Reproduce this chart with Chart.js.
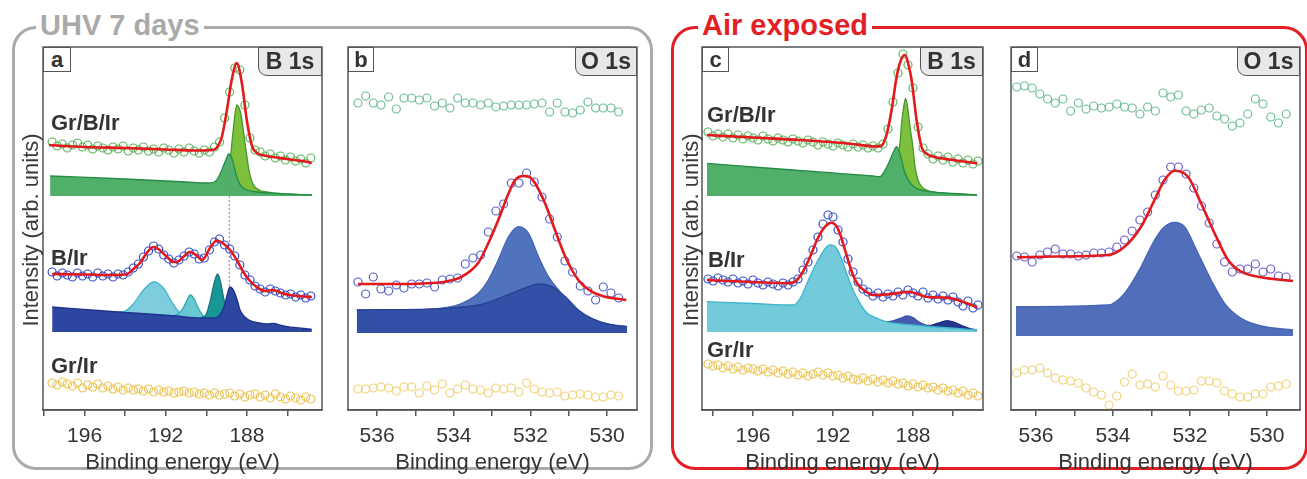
<!DOCTYPE html>
<html>
<head>
<meta charset="utf-8">
<script src="https://cdn.jsdelivr.net/npm/chart.js@4.4.1/dist/chart.umd.min.js"></script>
<style>
html,body{margin:0;padding:0;background:#fff;overflow:hidden;}
body{width:1307px;height:479px;position:relative;font-family:"Liberation Sans",Arial,sans-serif;}
canvas{position:absolute;}
.grp{position:absolute;box-sizing:border-box;border:3px solid;border-radius:24px;}
.grpTitle{position:absolute;font-weight:bold;font-size:29px;line-height:29px;background:#fff;padding:0 4px;white-space:nowrap;}
.tag{position:absolute;box-sizing:border-box;border:1.5px solid #555;background:#fff;color:#333;font-weight:bold;font-size:22px;display:flex;align-items:center;justify-content:center;}
.core{background:#e8e8ea;border-bottom-left-radius:9px;font-size:23px;}
.lbl{position:absolute;color:#333;font-weight:bold;font-size:22px;line-height:22px;white-space:nowrap;}
.ytitle{position:absolute;color:#3a3a3a;font-size:22px;white-space:nowrap;transform:translate(-50%,-50%) rotate(-90deg);}
</style>
</head>
<body>
<div class="grp" style="left:11.5px;top:25.5px;width:641px;height:444px;border-color:#aaa;"></div>
<div class="grpTitle" style="left:36px;top:11px;color:#aaa;">UHV 7 days</div>
<div class="grp" style="left:670.5px;top:25.5px;width:637px;height:444px;border-color:#e31e24;"></div>
<div class="grpTitle" style="left:698px;top:11px;color:#e31e24;">Air exposed</div>

<canvas id="pa"></canvas>
<canvas id="pb"></canvas>
<canvas id="pc"></canvas>
<canvas id="pd"></canvas>

<div class="ytitle" style="left:31px;top:230px;">Intensity (arb. units)</div>
<div class="ytitle" style="left:691px;top:230px;">Intensity (arb. units)</div>

<div class="tag" style="left:43px;top:47px;width:28px;height:25px;">a</div>
<div class="tag core" style="left:258px;top:47px;width:64px;height:29px;">B 1s</div>
<div class="tag" style="left:348px;top:47px;width:26px;height:25px;">b</div>
<div class="tag core" style="left:575px;top:47px;width:62px;height:29px;">O 1s</div>
<div class="tag" style="left:702px;top:47px;width:27px;height:25px;">c</div>
<div class="tag core" style="left:920px;top:47px;width:63px;height:29px;">B 1s</div>
<div class="tag" style="left:1011px;top:47px;width:27px;height:25px;">d</div>
<div class="tag core" style="left:1237px;top:47px;width:63px;height:29px;">O 1s</div>

<div class="lbl" style="left:51px;top:112px;">Gr/B/Ir</div>
<div class="lbl" style="left:51px;top:247px;">B/Ir</div>
<div class="lbl" style="left:51px;top:355px;">Gr/Ir</div>
<div class="lbl" style="left:707px;top:104px;">Gr/B/Ir</div>
<div class="lbl" style="left:708px;top:249px;">B/Ir</div>
<div class="lbl" style="left:707px;top:339px;">Gr/Ir</div>

<script>
// ---- panel a : UHV, B 1s ----
const aEnergy = [197.6,197.35,197.1,196.85,196.6,196.35,196.1,195.85,195.6,195.35,195.1,194.85,194.6,194.35,194.1,193.85,193.6,193.35,193.1,192.85,192.6,192.35,192.1,191.85,191.6,191.35,191.1,190.85,190.6,190.35,190.1,189.85,189.6,189.35,189.1,188.85,188.6,188.35,188.1,187.85,187.6,187.35,187.1,186.85,186.6,186.35,186.1,185.85,185.6,185.35,185.1,184.85];
const aGrB = [268,264,266,262,265,267,263,265,261,264,262,260,263,261,264,259,262,260,263,259,261,258,262,260,257,261,258,262,259,257,260,258,263,268,292,318,342,340,305,272,260,258,254,256,252,254,250,253,249,251,247,252];
const aBIr = [138,134,137,135,133,137,134,136,133,137,134,136,133,136,135,138,142,146,153,159,164,161,155,151,147,150,154,158,156,151,152,160,168,171,165,161,154,145,135,130,124,121,118,121,119,117,115,116,113,115,112,114];
const aGrIr = [27,25,28,26,24,27,22,25,23,26,22,24,21,23,20,22,20,21,19,21,18,20,18,19,17,18,19,17,18,16,17,15,17,15,16,17,14,16,13,15,16,13,15,12,16,13,11,14,12,10,13,11];
const aGrBFit = [[197.75,265],[196,263],[194,262],[192,260.5],[190.5,259.5],[189.75,260],[189.5,262],[189.25,272],[189,298],[188.75,330],[188.5,347],[188.25,327],[188,289],[187.75,264],[187.5,257],[187,254],[186,251],[185,248],[184.8,247]];
const aGrBBack = [[197.7,234],[194,231],[191,228],[190,227],[189.6,228],[189.4,233],[189.2,242],[189,252],[188.9,256],[188.75,252],[188.6,241],[188.45,230],[188.25,223],[188,220],[187.5,218],[186.5,216.5],[184.8,215]];
const aGrBPeak = [[189.6,228],[189.0,232],[188.85,245],[188.7,275],[188.5,305],[188.3,296],[188.1,268],[187.9,240],[187.7,226],[187.4,220],[187,218],[186.5,216.5],[184.8,215]];
const aBIrFit = [[197.6,136],[196,135.5],[194.5,135],[193.9,136],[193.6,141],[193.27,147],[192.94,157],[192.61,163],[192.3,160],[191.96,153.5],[191.6,148],[191.46,148],[191.14,153],[190.8,158],[190.5,155],[190.2,150],[189.82,162],[189.49,169.5],[189.2,167],[188.83,160],[188.5,150],[188.18,138],[187.85,129],[187.52,123],[187.1,119],[186.7,120],[186.3,117],[185.88,115],[185.06,113.3],[184.8,113]];
const aBIrBack = [[197.6,103],[195,99],[193.6,97],[191.5,94],[190.3,92],[189.6,92],[189.33,95],[189.1,105],[189.0,113],[188.84,123],[188.7,121],[188.6,117],[188.45,108],[188.34,100],[188.1,93],[187.9,90],[187.4,87],[187.0,86],[186.7,86.7],[186.3,84.5],[186.0,83.3],[184.8,80.7]];
const aCyan1 = [[194.4,98],[194.0,99],[193.6,106],[193.1,120],[192.8,126],[192.6,128],[192.4,127],[192.1,121.5],[191.7,108],[191.3,97],[191.0,94]];
const aCyan2 = [[191.7,94],[191.4,96],[191.14,102],[190.95,110],[190.8,115],[190.6,111],[190.4,102],[190.15,94],[189.9,92]];
const aTeal = [[190.3,92],[190.0,96],[189.8,110],[189.6,128],[189.45,136],[189.3,128],[189.15,112],[189.0,100],[188.8,92]];
const aMarker = [[188.87,254],[188.87,124]];

// ---- panel b : UHV, O 1s ----
const bEnergy = [536.5,536.3,536.1,535.9,535.7,535.5,535.3,535.1,534.9,534.7,534.5,534.3,534.1,533.9,533.7,533.5,533.3,533.1,532.9,532.7,532.5,532.3,532.1,531.9,531.7,531.5,531.3,531.1,530.9,530.7,530.5,530.3,530.1,529.9,529.7];
const bGrB = [307,314,307,305,313,301,312,312,310,312,304,307,302,312,307,307,305,307,303,304,305,305,305,306,307,298,307,298,297,300,308,302,302,302,298];
const bBIr = [128,116,133,121,119,125,122,126,126,127,123,130,131,132,146,152,155,178,199,206,227,227,237,228,213,191,173,149,138,124,119,110,123,117,112];
const bGrIr = [21,21,22,23,22,19,23,23,17,24,20,26,17,21,25,21,20,17,22,21,22,18,27,21,18,17,18,14,15,16,15,13,13,15,14];
const bFit = [[536.5,126],[535.5,126],[534.8,126.5],[534.23,128.3],[533.79,133.3],[533.36,147.3],[533.1,166.7],[532.84,190],[532.57,216.7],[532.4,230],[532.18,234],[532.01,232.7],[531.88,226.7],[531.62,206.7],[531.36,180],[531.09,153.3],[530.75,130],[530.4,118.3],[530.05,113.3],[529.5,110]];
const bComp1 = [[536.53,100],[535.1,100],[534.23,102.3],[533.79,106.7],[533.36,116.7],[533.1,130],[532.84,150],[532.57,173.3],[532.31,183.3],[532.05,176.7],[531.79,153.3],[531.53,133.3],[531.27,120],[530.92,103.3],[530.58,93.3],[530.05,86.7],[529.48,83.3]];
const bComp2 = [[536.53,100],[534.23,101.7],[533.36,105],[532.93,110],[532.49,116.7],[532.05,123.3],[531.79,126],[531.44,123.3],[531.09,113.3],[530.75,100],[530.4,91.7],[529.88,85],[529.48,83.3]];

// ---- panel c : air exposed, B 1s ----
const cEnergy = [198.25,198,197.75,197.5,197.25,197,196.75,196.5,196.25,196,195.75,195.5,195.25,195,194.75,194.5,194.25,194,193.75,193.5,193.25,193,192.75,192.5,192.25,192,191.75,191.5,191.25,191,190.75,190.5,190.25,190,189.75,189.5,189.25,189,188.75,188.5,188.25,188,187.75,187.5,187.25,187,186.75,186.5,186.25,186,185.75,185.5,185.25,185,184.75];
const cGrB = [278,274,276,273,276,272,275,271,274,272,270,274,271,269,272,270,268,271,269,267,270,268,265,268,266,264,267,265,263,266,263,265,262,264,262,266,281,308,337,356,345,322,283,262,256,251,254,250,253,248,251,247,250,246,249];
const cBIr = [131,129,132,130,128,131,127,129,126,130,127,125,128,126,124,127,125,128,131,140,148,160,173,186,195,193,180,168,151,138,128,121,118,114,117,113,116,114,118,115,120,117,114,118,112,115,111,114,110,113,108,104,109,102,105];
const cGrIr = [46,44,45,42,44,41,43,40,42,41,39,41,38,40,37,39,36,38,35,37,34,36,38,35,37,34,35,32,34,31,30,32,29,31,28,30,27,29,26,27,24,26,23,25,22,23,20,22,19,20,17,19,15,17,14];
const cGrBFit = [[198.3,275],[196,272.5],[193.65,270],[191,266],[189.9,263.5],[189.6,264],[189.45,268],[189.3,277],[189.07,300],[188.82,333],[188.6,350],[188.4,355],[188.2,343],[188.07,330],[187.82,290],[187.57,263],[187.3,256],[187,253.5],[186,250],[184.8,246.7]];
const cGrBBack = [[198.3,246.7],[194,240],[190,234],[189.65,233.3],[189.45,238],[189.22,246.7],[189.0,257],[188.82,263.3],[188.7,259],[188.57,250],[188.45,240],[188.32,233.3],[188.1,226],[187.82,221.7],[187,218],[186,216.5],[184.8,215]];
const cGrBPeak = [[189.2,240],[188.9,245],[188.75,255],[188.65,266.7],[188.57,286.7],[188.45,305],[188.37,311.7],[188.25,300],[188.15,283.3],[188.0,262],[187.9,243.3],[187.75,230],[187.57,223.3],[187.2,219],[186.5,217],[184.8,215]];
const cBIrFit = [[198.3,130],[196,128],[194.15,126.7],[193.8,130],[193.5,138.3],[193.15,153],[192.8,170],[192.4,183.3],[192.07,187.3],[191.8,183],[191.6,173.3],[191.4,160],[191.2,146.7],[191.0,135],[190.8,126.7],[190.4,119],[190.0,115],[189.3,115.5],[188.6,117.3],[188.3,118.3],[188.0,117.5],[187.35,113.3],[186.6,112.5],[186.1,111.7],[185.3,106.7],[184.8,102.7]];
const cCyan = [[198.3,108.3],[196,106.5],[193.98,105],[193.6,113],[193.3,126.7],[192.95,142],[192.65,153.3],[192.35,162.5],[192.15,165],[191.82,161.7],[191.55,150],[191.32,136.7],[191.0,120],[190.65,106.7],[190.3,97],[190.0,93.3],[189.35,88.3],[188.0,85],[186.5,82.5],[184.8,80]];
const cBump1 = [[189.4,88],[189.0,89],[188.6,92],[188.3,94],[188.0,92.5],[187.7,88],[187.3,84.5],[187.0,83]];
const cBump2 = [[187.6,84.5],[187.2,84.5],[186.8,86.5],[186.3,89.3],[185.9,87.5],[185.5,84],[185.1,81],[184.8,80]];

// ---- panel d : air exposed, O 1s ----
const dEnergy = [536.5,536.3,536.1,535.9,535.7,535.5,535.3,535.1,534.9,534.7,534.5,534.3,534.1,533.9,533.7,533.5,533.3,533.1,532.9,532.7,532.5,532.3,532.1,531.9,531.7,531.5,531.3,531.1,530.9,530.7,530.5,530.3,530.1,529.9,529.7,529.5];
const dGrB = [323,324,322,316,311,307,311,299,307,301,304,302,303,306,303,302,296,303,299,317,313,315,299,296,300,302,294,291,284,287,296,311,306,293,287,296];
const dBIr = [154,153,148,155,158,161,156,156,154,155,157,157,158,163,170,179,190,198,215,230,243,243,236,222,204,187,166,148,138,141,141,146,138,141,134,133];
const dGrIr = [37,40,40,42,37,32,30,29,27,22,18,15,5,14,28,36,25,26,23,34,25,19,19,20,29,29,27,19,16,13,13,16,16,23,24,26];
const dFit = [[536.49,152.7],[535.5,153.5],[534.13,155],[533.7,163.3],[533.27,183.3],[532.92,210],[532.66,230],[532.4,239.3],[532.05,233.3],[531.71,206.7],[531.36,176.7],[531.01,150],[530.67,138.3],[530.15,132.7],[529.32,129]];
const dComp = [[536.52,103.3],[534.13,105],[533.7,116.7],[533.27,143.3],[532.92,170],[532.66,183.3],[532.4,187.7],[532.14,183.3],[531.79,156.7],[531.45,130],[531.1,106.7],[530.67,91.7],[530.15,84],[529.32,80]];

Chart.defaults.font.family = '"Liberation Sans", Arial, sans-serif';

function pts(xs, ys){ return xs.map((x,i)=>({x:x, y:ys[i]})); }
function pairs(arr){ return arr.map(p=>({x:p[0], y:p[1]})); }

function circles(data, color, r){
  return { data:data, showLine:false, pointRadius:r||4, pointBorderWidth:1.2,
    pointBorderColor:color, pointBackgroundColor:'rgba(255,255,255,0)', borderColor:color };
}
function fit(data){
  return { data:data, borderColor:'#e3191c', borderWidth:2.6, pointRadius:0,
    cubicInterpolationMode:'monotone', fill:false };
}
function band(data, fillCol, lineCol, base){
  return { data:data, borderColor:lineCol, borderWidth:1.3, backgroundColor:fillCol,
    fill:{value:base}, pointRadius:0, cubicInterpolationMode:'monotone' };
}

const framePlugin = {
  id:'frame',
  afterDatasetsDraw(chart){
    const {ctx, chartArea:a} = chart;
    ctx.save();
    ctx.strokeStyle = '#555';
    ctx.lineWidth = 1.5;
    ctx.strokeRect(a.left, a.top, a.right-a.left, a.bottom-a.top);
    ctx.restore();
  }
};

function makePanel(id, left, right, xmin, xmax, step, every, datasets){
  const cv = document.getElementById(id);
  const w = right - left + 20, h = 442;
  cv.width = w; cv.height = h;
  cv.style.left = (left-10)+'px'; cv.style.top = '37px';
  cv.style.width = w+'px'; cv.style.height = h+'px';
  datasets.forEach((d,i)=>{ d.order = i; });
  return new Chart(cv, {
    type:'line',
    data:{ datasets:datasets },
    options:{
      responsive:false, animation:false, events:[], devicePixelRatio:1,
      layout:{ padding:{ left:10, right:10, top:10, bottom:0 } },
      plugins:{ legend:{display:false}, tooltip:{enabled:false} },
      scales:{
        x:{
          type:'linear', reverse:true, min:xmin, max:xmax,
          afterFit: s => { s.height = 69; },
          grid:{ drawOnChartArea:false, drawTicks:true, tickLength:6, color:'#555', lineWidth:1.5 },
          border:{ display:true, color:'#555', width:1.5 },
          ticks:{ stepSize:step, autoSkip:false, maxRotation:0, includeBounds:false, padding:8,
            color:'#333', font:{size:21},
            callback: v => Math.round(v) % every === 0 ? String(Math.round(v)) : '' },
          title:{ display:true, text:'Binding energy (eV)', color:'#333', font:{size:22},
            padding:{top:0, bottom:3} }
        },
        y:{ display:false, min:0, max:363 }
      }
    },
    plugins:[framePlugin]
  });
}

// panel a
makePanel('pa', 43, 322, 184.3, 198.05, 2, 4, [
  fit(pairs(aGrBFit)),
  circles(pts(aEnergy, aGrB), 'rgb(95,180,95)'),
  fit(pairs(aBIrFit)),
  circles(pts(aEnergy, aBIr), 'rgb(55,80,200)'),
  circles(pts(aEnergy, aGrIr), 'rgb(235,195,80)'),
  { data:pairs(aMarker), borderColor:'#888', borderWidth:1, borderDash:[2,2], pointRadius:0, fill:false },
  band(pairs(aGrBBack), 'rgb(80,175,105)', 'rgb(35,140,70)', 214),
  band(pairs(aGrBPeak), 'rgb(125,192,60)', 'rgb(70,150,50)', 214),
  band(pairs(aBIrBack), 'rgb(45,70,160)', 'rgb(30,50,140)', 78),
  band(pairs(aTeal), 'rgb(25,150,150)', 'rgb(20,120,130)', 78),
  band(pairs(aCyan2), 'rgb(105,200,210)', 'rgb(40,170,180)', 78),
  band(pairs(aCyan1), 'rgb(125,205,222)', 'rgb(60,180,205)', 78)
]);

// panel b
makePanel('pb', 348, 637, 529.22, 536.76, 1, 2, [
  fit(pairs(bFit)),
  circles(pts(bEnergy, bGrB), 'rgb(110,190,150)'),
  circles(pts(bEnergy, bBIr), 'rgb(85,100,200)'),
  circles(pts(bEnergy, bGrIr), 'rgb(240,210,120)'),
  band(pairs(bComp2), 'rgb(50,80,165)', 'rgb(40,65,150)', 77),
  band(pairs(bComp1), 'rgb(80,115,190)', 'rgb(70,100,180)', 77)
]);

// panel c
makePanel('pc', 702, 983, 184.5, 198.55, 2, 4, [
  fit(pairs(cGrBFit)),
  circles(pts(cEnergy, cGrB), 'rgb(95,180,95)'),
  fit(pairs(cBIrFit)),
  circles(pts(cEnergy, cBIr), 'rgb(55,80,200)'),
  circles(pts(cEnergy, cGrIr), 'rgb(235,195,80)'),
  band(pairs(cGrBBack), 'rgb(80,175,105)', 'rgb(35,140,70)', 214),
  band(pairs(cGrBPeak), 'rgb(125,192,60)', 'rgb(70,150,50)', 214),
  band(pairs(cCyan), 'rgb(115,202,218)', 'rgb(60,180,205)', 78),
  band(pairs(cBump1), 'rgb(70,90,175)', 'rgb(60,80,165)', 78),
  band(pairs(cBump2), 'rgb(35,55,140)', 'rgb(30,45,130)', 78)
]);

// panel d
makePanel('pd', 1011, 1300, 529.14, 536.65, 1, 2, [
  fit(pairs(dFit)),
  circles(pts(dEnergy, dGrB), 'rgb(110,190,150)'),
  circles(pts(dEnergy, dBIr), 'rgb(110,95,200)'),
  circles(pts(dEnergy, dGrIr), 'rgb(240,210,120)'),
  band(pairs(dComp), 'rgb(80,110,185)', 'rgb(70,100,180)', 74)
]);
</script>
</body>
</html>
